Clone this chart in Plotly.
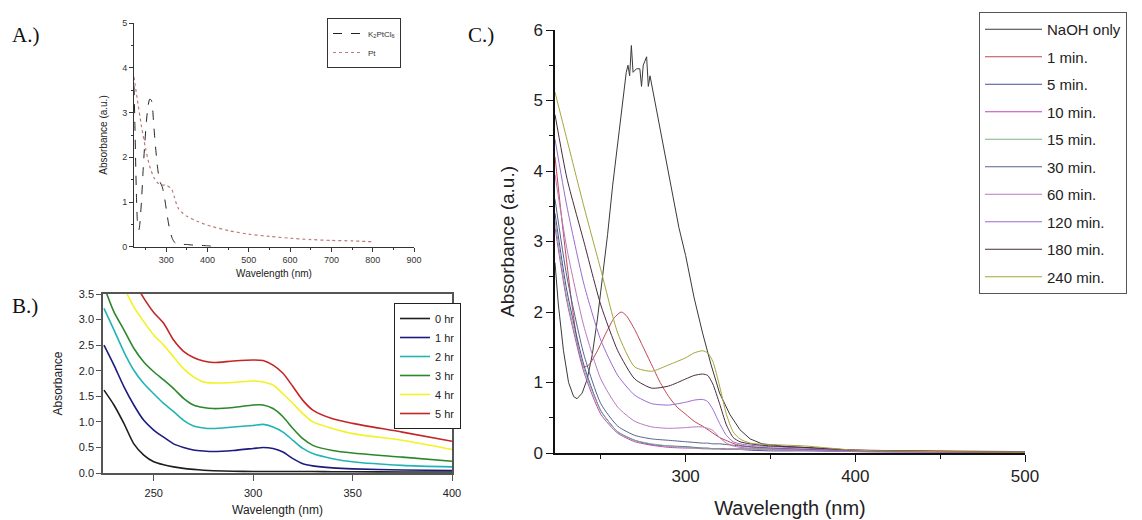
import plotly.graph_objects as go

FONT = "Liberation Sans, Arial, sans-serif"
SERIF = "Liberation Serif, Times New Roman, serif"

# ---------------- Panel A data ----------------
wl_a_k2 = [222, 224, 226, 228, 230, 232, 234, 236, 240, 244, 248, 252, 256, 260, 264, 267, 270, 275, 280,
           285, 290, 295, 300, 305, 310, 315, 320, 325, 330, 340, 350, 360, 380, 400, 410]
abs_a_k2 = [3.6, 2.8, 1.9, 1.1, 0.6, 0.4, 0.38, 0.5, 1.0, 1.7, 2.3, 2.8, 3.15, 3.3, 3.28, 3.1, 2.7, 2.15, 1.7,
            1.45, 1.35, 1.15, 0.85, 0.55, 0.32, 0.18, 0.1, 0.07, 0.06, 0.05, 0.05, 0.04, 0.03, 0.02, 0.01]
wl_a_pt = [222, 230, 240, 250, 260, 270, 280, 290, 300, 310, 315, 320, 325, 330, 340, 350, 375, 400, 450,
           500, 550, 600, 650, 700, 750, 800]
abs_a_pt = [3.8, 3.3, 2.7, 2.2, 1.8, 1.55, 1.42, 1.38, 1.38, 1.32, 1.25, 1.1, 0.95, 0.85, 0.75, 0.68, 0.57,
            0.48, 0.36, 0.28, 0.23, 0.19, 0.16, 0.14, 0.13, 0.11]

# ---------------- Panel B data ----------------
wl_b = [225, 230, 235, 240, 245, 250, 255, 260, 265, 270, 275, 280, 290, 300, 305, 310, 315, 320, 325, 330,
        340, 350, 375, 400]
b_labels = ["0 hr", "1 hr", "2 hr", "3 hr", "4 hr", "5 hr"]
b_0hr = [1.62, 1.33, 0.97, 0.57, 0.35, 0.22, 0.16, 0.12, 0.09, 0.07, 0.055, 0.045, 0.035, 0.03, 0.03, 0.03,
         0.03, 0.03, 0.03, 0.03, 0.025, 0.025, 0.02, 0.02]
b_1hr = [2.5, 2.11, 1.69, 1.33, 1.03, 0.84, 0.7, 0.57, 0.5, 0.45, 0.43, 0.42, 0.44, 0.48, 0.5, 0.48, 0.41,
         0.28, 0.18, 0.14, 0.1, 0.08, 0.06, 0.05]
b_2hr = [3.22, 2.8, 2.37, 2.01, 1.75, 1.55, 1.36, 1.2, 1.03, 0.92, 0.88, 0.87, 0.9, 0.93, 0.95, 0.9, 0.8,
         0.64, 0.48, 0.38, 0.28, 0.22, 0.15, 0.12]
b_3hr = [3.65, 3.15, 2.8, 2.44, 2.17, 1.98, 1.82, 1.65, 1.46, 1.33, 1.28, 1.26, 1.28, 1.33, 1.33, 1.26, 1.1,
         0.87, 0.67, 0.54, 0.44, 0.39, 0.31, 0.23]
b_4hr = [4.3, 3.95, 3.62, 3.25, 2.96, 2.7, 2.5, 2.27, 2.04, 1.88, 1.78, 1.76, 1.77, 1.8, 1.78, 1.72, 1.55,
         1.36, 1.16, 1.0, 0.87, 0.77, 0.64, 0.46]
b_5hr = [4.9, 4.5, 4.1, 3.75, 3.42, 3.14, 2.93, 2.6, 2.38, 2.26, 2.19, 2.16, 2.19, 2.21, 2.2, 2.11, 1.95,
         1.69, 1.42, 1.23, 1.06, 0.97, 0.8, 0.62]
b_colors = ["#1e1e1e", "#1c1c80", "#22b4b4", "#2a882a", "#f2f224", "#c42626"]

# ---------------- Panel C data ----------------
c_labels = ["NaOH only", "1 min.", "5 min.", "10 min.", "15 min.", "30 min.", "60 min.", "120 min.",
            "180 min.", "240 min."]
wl_c_naoh = [223, 225, 228, 231, 234, 236, 239, 242, 245, 248, 251, 254, 257, 260, 263, 265, 266, 267, 268,
             269, 271, 273, 274, 275, 277, 278, 279, 281, 284, 288, 292, 296, 300, 305, 310, 315, 320, 326,
             332, 338, 345, 360, 400, 450, 500]
c_naoh = [2.7, 2.1, 1.45, 1.0, 0.8, 0.77, 0.85, 1.05, 1.4, 1.9, 2.5, 3.1, 3.8, 4.4, 5.0, 5.4, 5.5, 5.35, 5.78,
          5.4, 5.45, 5.45, 5.2, 5.5, 5.62, 5.2, 5.35, 5.1, 4.7, 4.2, 3.7, 3.2, 2.8, 2.2, 1.7, 1.25, 0.85,
          0.55, 0.33, 0.2, 0.13, 0.09, 0.04, 0.02, 0.01]
wl_c_1 = [223, 228, 233, 237, 240, 243, 248, 253, 258, 262, 265, 270, 275, 280, 285, 290, 295, 300, 305,
          310, 315, 320, 330, 340, 360, 400, 450, 500]
c_1min = [4.2, 3.1, 2.1, 1.45, 1.22, 1.25, 1.45, 1.7, 1.92, 2.0, 1.95, 1.75, 1.5, 1.25, 1.0, 0.8, 0.65,
          0.55, 0.45, 0.38, 0.3, 0.22, 0.12, 0.08, 0.06, 0.04, 0.03, 0.02]
wl_c = [223, 230, 240, 250, 260, 270, 280, 290, 300, 305, 310, 313, 316, 320, 324, 328, 332, 338, 350, 370,
        400, 450, 500]
c_5min = [3.4, 2.3, 1.25, 0.6, 0.3, 0.18, 0.12, 0.1, 0.09, 0.08, 0.07, 0.07, 0.06, 0.06, 0.05, 0.05, 0.05,
          0.04, 0.03, 0.03, 0.02, 0.01, 0.01]
c_10min = [3.2, 2.15, 1.15, 0.55, 0.28, 0.16, 0.11, 0.08, 0.07, 0.07, 0.06, 0.06, 0.06, 0.06, 0.06, 0.06,
           0.06, 0.06, 0.05, 0.04, 0.03, 0.02, 0.01]
c_15min = [3.3, 2.2, 1.2, 0.6, 0.3, 0.18, 0.13, 0.1, 0.08, 0.07, 0.07, 0.06, 0.06, 0.06, 0.05, 0.05, 0.05,
           0.05, 0.05, 0.04, 0.03, 0.02, 0.01]
c_30min = [3.6, 2.5, 1.4, 0.7, 0.38, 0.25, 0.2, 0.18, 0.16, 0.15, 0.14, 0.14, 0.13, 0.13, 0.12, 0.11, 0.1,
           0.09, 0.07, 0.05, 0.03, 0.02, 0.01]
c_60min = [3.95, 2.9, 1.8, 1.05, 0.65, 0.45, 0.37, 0.35, 0.36, 0.37, 0.37, 0.35, 0.32, 0.22, 0.14, 0.1,
           0.08, 0.07, 0.06, 0.04, 0.02, 0.01, 0.01]
c_120min = [4.45, 3.5, 2.4, 1.6, 1.1, 0.82, 0.7, 0.68, 0.72, 0.75, 0.76, 0.73, 0.62, 0.42, 0.25, 0.16, 0.13,
            0.11, 0.09, 0.07, 0.03, 0.02, 0.01]
c_180min = [4.8, 3.9, 3.0, 2.1, 1.45, 1.05, 0.92, 0.95, 1.05, 1.1, 1.12, 1.1, 0.98, 0.7, 0.4, 0.22, 0.16,
            0.13, 0.1, 0.08, 0.04, 0.02, 0.01]
c_240min = [5.12, 4.45, 3.5, 2.6, 1.7, 1.22, 1.16, 1.25, 1.35, 1.42, 1.45, 1.42, 1.3, 0.95, 0.55, 0.3, 0.2,
            0.14, 0.12, 0.1, 0.04, 0.02, 0.01]
c_colors = ["#3a3a3a", "#c04450", "#4a4aa0", "#c044c0", "#84b084", "#586090", "#b878c0", "#9a6ad0",
            "#4a2a3a", "#a4a43a"]

fig = go.Figure()

# Panel A traces
fig.add_trace(go.Scatter(x=wl_a_k2, y=abs_a_k2, mode="lines", name="K<sub>2</sub>PtCl<sub>6</sub>",
                         line=dict(color="#222222", width=1, dash="dash", shape="spline", smoothing=0.6),
                         xaxis="x", yaxis="y", legend="legend"))
fig.add_trace(go.Scatter(x=wl_a_pt, y=abs_a_pt, mode="lines", name="Pt",
                         line=dict(color="#c07a7a", width=1.2, dash="dot", shape="spline", smoothing=0.6),
                         xaxis="x", yaxis="y", legend="legend"))

# Panel B traces
for lab, vals, col in zip(b_labels, [b_0hr, b_1hr, b_2hr, b_3hr, b_4hr, b_5hr], b_colors):
    fig.add_trace(go.Scatter(x=wl_b, y=vals, mode="lines", name=lab,
                             line=dict(color=col, width=1.6, shape="spline", smoothing=0.7),
                             xaxis="x2", yaxis="y2", legend="legend2"))

# Panel C traces
c_series = [(wl_c_naoh, c_naoh), (wl_c_1, c_1min), (wl_c, c_5min), (wl_c, c_10min), (wl_c, c_15min),
            (wl_c, c_30min), (wl_c, c_60min), (wl_c, c_120min), (wl_c, c_180min), (wl_c, c_240min)]
for i, (lab, (xs, ys), col) in enumerate(zip(c_labels, c_series, c_colors)):
    shape = "linear" if i == 0 else "spline"
    fig.add_trace(go.Scatter(x=xs, y=ys, mode="lines", name=lab, legendgroup=lab,
                             line=dict(color=col, width=1, shape=shape, smoothing=0.6),
                             xaxis="x3", yaxis="y3", legend="legend3"))

# The page body adds an 8 px margin, so the figure starts at (8, 8) in the window.
OFF = 8
W, H = 1142 - OFF, 520 - OFF
def fx(px):
    return (px - OFF) / W
def fy(py):
    return 1 - (py - OFF) / H

axA = dict(showline=True, linecolor="#333", linewidth=1, ticks="outside", ticklen=4, tickcolor="#333",
           showgrid=False, zeroline=False, automargin=False, tickfont=dict(size=9, color="#333"))
fig.update_layout(
    width=W, height=H, margin=dict(l=0, r=0, t=0, b=0),
    paper_bgcolor="white", plot_bgcolor="white",
    font=dict(family=FONT, color="#222"),
    xaxis=dict(axA, domain=[fx(134), fx(414)], range=[222, 900], dtick=100, tick0=0, anchor="y",
               minor=dict(dtick=50, ticks="outside", ticklen=2, tickcolor="#333"),
               title=dict(text="Wavelength (nm)", font=dict(size=10), standoff=6)),
    yaxis=dict(axA, domain=[fy(246.7), fy(23.3)], range=[0, 5], dtick=1, anchor="x",
               minor=dict(dtick=0.5, ticks="outside", ticklen=2, tickcolor="#333"),
               title=dict(text="Absorbance (a.u.)", font=dict(size=10), standoff=12)),
    xaxis2=dict(showline=True, linecolor="#555", linewidth=1.5, mirror=True, ticks="outside", ticklen=6,
                tickcolor="#555", showgrid=False, zeroline=False, automargin=False, ticklabelstandoff=3,
                domain=[fx(103), fx(452)], range=[224.5, 400], tickvals=[250, 300, 350, 400], anchor="y2",
                tickfont=dict(size=11, color="#222"),
                title=dict(text="Wavelength (nm)", font=dict(size=12), standoff=8)),
    yaxis2=dict(showline=True, linecolor="#555", linewidth=1.5, mirror=True, ticks="outside", ticklen=5,
                tickcolor="#555", showgrid=False, zeroline=False, automargin=False,
                domain=[fy(473), fy(294)], range=[0, 3.5], dtick=0.5, tickformat=".1f", anchor="x2",
                tickfont=dict(size=11, color="#222"),
                title=dict(text="Absorbance", font=dict(size=12), standoff=14)),
    xaxis3=dict(showline=True, linecolor="#111", linewidth=1.5, ticks="outside", ticklen=7, tickcolor="#111",
                showgrid=False, zeroline=False, automargin=False,
                domain=[fx(555), fx(1025)], range=[223, 500], tickvals=[300, 400, 500], anchor="y3",
                minor=dict(tickvals=[250, 350, 450], ticks="outside", ticklen=4, tickcolor="#111"),
                tickfont=dict(size=17, color="#222"),
                title=dict(text="Wavelength (nm)", font=dict(size=20), standoff=16)),
    yaxis3=dict(showline=True, linecolor="#111", linewidth=1.5, ticks="outside", ticklen=7, tickcolor="#111",
                showgrid=False, zeroline=False, automargin=False,
                domain=[fy(453), fy(30)], range=[0, 6], dtick=1, anchor="x3",
                minor=dict(dtick=0.5, ticks="outside", ticklen=4, tickcolor="#111"),
                tickfont=dict(size=17, color="#222"),
                title=dict(text="Absorbance (a.u.)", font=dict(size=19), standoff=14)),
    legend=dict(x=fx(327), y=fy(18), xanchor="left", yanchor="top", bgcolor="white",
                bordercolor="#333", borderwidth=1, font=dict(size=8, color="#333")),
    legend2=dict(x=fx(394), y=fy(303), xanchor="left", yanchor="top", bgcolor="white",
                 bordercolor="#222", borderwidth=1, font=dict(size=11, color="#222")),
    legend3=dict(x=fx(979), y=fy(12), xanchor="left", yanchor="top", bgcolor="white",
                 bordercolor="#555", borderwidth=1, font=dict(size=15, color="#222"),
                 tracegroupgap=5, traceorder="grouped", itemwidth=57),
    annotations=[
        dict(text="A.)", x=fx(10), y=fy(35), xref="paper", yref="paper", xanchor="left", yanchor="middle",
             showarrow=False, font=dict(family=SERIF, size=21, color="#111")),
        dict(text="B.)", x=fx(10), y=fy(306), xref="paper", yref="paper", xanchor="left", yanchor="middle",
             showarrow=False, font=dict(family=SERIF, size=21, color="#111")),
        dict(text="C.)", x=fx(466), y=fy(35), xref="paper", yref="paper", xanchor="left", yanchor="middle",
             showarrow=False, font=dict(family=SERIF, size=21, color="#111")),
    ],
)

fig.write_html("out.html")
